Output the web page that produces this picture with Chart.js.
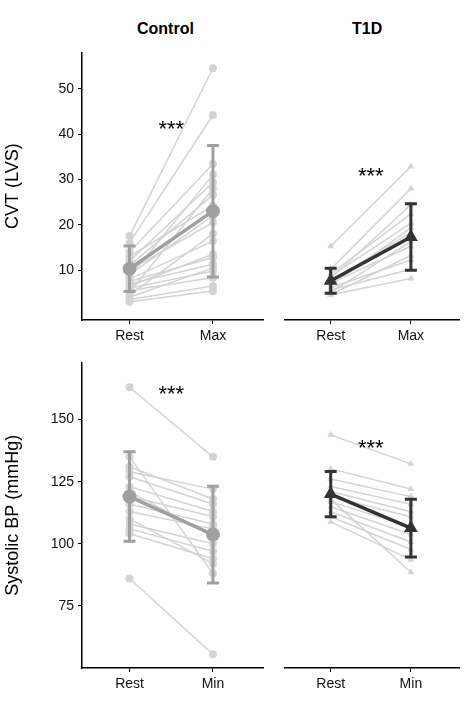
<!DOCTYPE html>
<html><head><meta charset="utf-8">
<script src="https://cdn.jsdelivr.net/npm/chart.js@4"></script>
<style>
body{margin:0;background:#fff;font-family:"Liberation Sans",Arial,sans-serif;}
.c{position:absolute;}
.t{position:absolute;font-weight:bold;font-size:16px;top:20px;}
</style></head><body>
<div class="t" style="left:137px">Control</div>
<div class="t" style="left:352px">T1D</div>
<canvas id="tl" class="c"></canvas>
<canvas id="tr" class="c"></canvas>
<canvas id="bl" class="c"></canvas>
<canvas id="br" class="c"></canvas>
<script>
// CVT, control
const ctlCvtRest = [17.5, 16, 14, 12, 11, 13, 10, 9, 8, 7.5, 7, 6.5, 6, 5.5, 5, 4.5, 4, 3.5, 3, 8.5];
const ctlCvtMax  = [54.5, 44.2, 33.4, 29.3, 26.6, 24.2, 20.5, 22, 16.4, 12.8, 11.3, 13.5, 9.8, 8.3, 28, 18, 10.5, 6.5, 5.4, 31];
const ctlCvtMean = [10.3, 23];
const ctlCvtSd   = [5, 14.5];
// CVT, T1D
const t1dCvtRest = [15, 10, 9, 8.5, 8, 7.5, 7, 6.5, 6, 5.5, 5, 4.5, 4.5];
const t1dCvtMax  = [32.3, 27.5, 22, 20, 24, 18, 15, 19, 12, 10, 16, 8, 13];
const t1dCvtMean = [7.5, 17];
const t1dCvtSd   = [2.7, 7.2];
// Systolic BP, control
const ctlBpRest = [163, 135, 131, 127, 123, 119, 116, 113, 108, 106, 104, 86, 129, 121, 110];
const ctlBpMin  = [135, 88, 118, 116, 113, 111, 108, 106, 100, 97, 94, 55.5, 122, 103, 92];
const ctlBpMean = [119, 103.7];
const ctlBpSd   = [18, 19.5];
// Systolic BP, T1D
const t1dBpRest = [142.5, 129, 125, 122, 120, 118, 116, 114, 112, 110, 108, 117];
const t1dBpMin  = [131, 121, 118, 115, 112, 110, 106, 103, 100, 97, 93, 88];
const t1dBpMean = [119, 105.5];
const t1dBpSd   = [9, 11.5];

const font = {family: '"Liberation Sans", Arial, sans-serif'};

const extras = {
  id: 'extras',
  afterDatasetsDraw(chart, args, o) {
    const {ctx, scales: {x, y}} = chart;
    ctx.save();
    ctx.strokeStyle = o.color; ctx.lineWidth = 3;
    o.mean.forEach((m, i) => {
      const px = x.getPixelForValue(i + 1);
      const lo = y.getPixelForValue(m - o.sd[i]), hi = y.getPixelForValue(m + o.sd[i]);
      ctx.beginPath();
      ctx.moveTo(px, lo); ctx.lineTo(px, hi);
      ctx.moveTo(px - 6, lo); ctx.lineTo(px + 6, lo);
      ctx.moveTo(px - 6, hi); ctx.lineTo(px + 6, hi);
      ctx.stroke();
    });
    ctx.fillStyle = '#000';
    ctx.font = '22px ' + font.family;
    ctx.textAlign = 'center'; ctx.textBaseline = 'middle';
    ctx.fillText('***', x.getPixelForValue(1.5), y.getPixelForValue(o.starY));
    ctx.restore();
  }
};

function panel(id, pos, rest, after, mean, sd, labels, range, cfg) {
  const el = document.getElementById(id);
  el.style.left = pos[0] + 'px'; el.style.top = pos[1] + 'px';
  el.style.width = pos[2] + 'px'; el.style.height = pos[3] + 'px';
  const datasets = rest.map((r, i) => ({
    data: [{x: 1, y: r}, {x: 2, y: after[i]}], order: 1,
    showLine: true, borderColor: '#d3d3d3', backgroundColor: '#d3d3d3',
    borderWidth: 1.5, pointRadius: 4, pointStyle: cfg.style, pointBorderWidth: 0
  }));
  datasets.push({
    data: [{x: 1, y: mean[0]}, {x: 2, y: mean[1]}], order: 0,
    showLine: true, borderColor: cfg.color, backgroundColor: cfg.color,
    borderWidth: 3.5, pointRadius: cfg.style === 'triangle' ? 8 : 7, pointStyle: cfg.style, pointBorderWidth: 0
  });
  const hasY = cfg.yTitle !== null;
  new Chart(el, {
    type: 'scatter',
    data: {datasets},
    plugins: [extras],
    options: {
      responsive: false, animation: false, devicePixelRatio: 1,
      layout: {padding: {top: 5, right: 5}},
      plugins: {legend: {display: false}, tooltip: {enabled: false},
        extras: {mean, sd, color: cfg.color, starY: cfg.starY}},
      scales: {
        x: {
          type: 'linear', min: 0.43, max: 2.6,
          afterBuildTicks: a => { a.ticks = [{value: 1}, {value: 2}]; },
          afterFit: a => { a.height = cfg.xh; },
          ticks: {callback: v => labels[v - 1], color: '#111', font: {...font, size: 14}, padding: 4},
          grid: {drawOnChartArea: false, tickLength: 4, color: '#000'},
          border: {color: '#000', width: 1.5}
        },
        y: {
          display: hasY, min: range[0], max: range[1],
          afterBuildTicks: a => { a.ticks = cfg.yTicks.map(v => ({value: v})); },
          afterFit: a => { a.width = hasY ? 82 : 0; },
          ticks: {color: '#111', font: {...font, size: 14}, padding: 4},
          grid: {drawOnChartArea: false, tickLength: 4, color: '#000'},
          border: {color: '#000', width: 1.5},
          title: {display: hasY, text: cfg.yTitle || '', color: '#000', font: {...font, size: 18}, padding: 2}
        }
      }
    }
  });
}

panel('tl', [0, 40, 270, 300], ctlCvtRest, ctlCvtMax, ctlCvtMean, ctlCvtSd, ['Rest', 'Max'], [-1, 58],
  {color: '#a0a0a0', style: 'circle', starY: 41, xh: 20, yTitle: 'CVT (LVS)', yTicks: [10, 20, 30, 40, 50]});
panel('tr', [277, 40, 190, 300], t1dCvtRest, t1dCvtMax, t1dCvtMean, t1dCvtSd, ['Rest', 'Max'], [-1, 58],
  {color: '#333333', style: 'triangle', starY: 30, xh: 20, yTitle: null, yTicks: []});
panel('bl', [0, 350, 270, 348], ctlBpRest, ctlBpMin, ctlBpMean, ctlBpSd, ['Rest', 'Min'], [50, 173],
  {color: '#a0a0a0', style: 'circle', starY: 160, xh: 30, yTitle: 'Systolic BP (mmHg)', yTicks: [75, 100, 125, 150]});
panel('br', [277, 350, 190, 348], t1dBpRest, t1dBpMin, t1dBpMean, t1dBpSd, ['Rest', 'Min'], [50, 173],
  {color: '#333333', style: 'triangle', starY: 137, xh: 30, yTitle: null, yTicks: []});
</script>
</body></html>
